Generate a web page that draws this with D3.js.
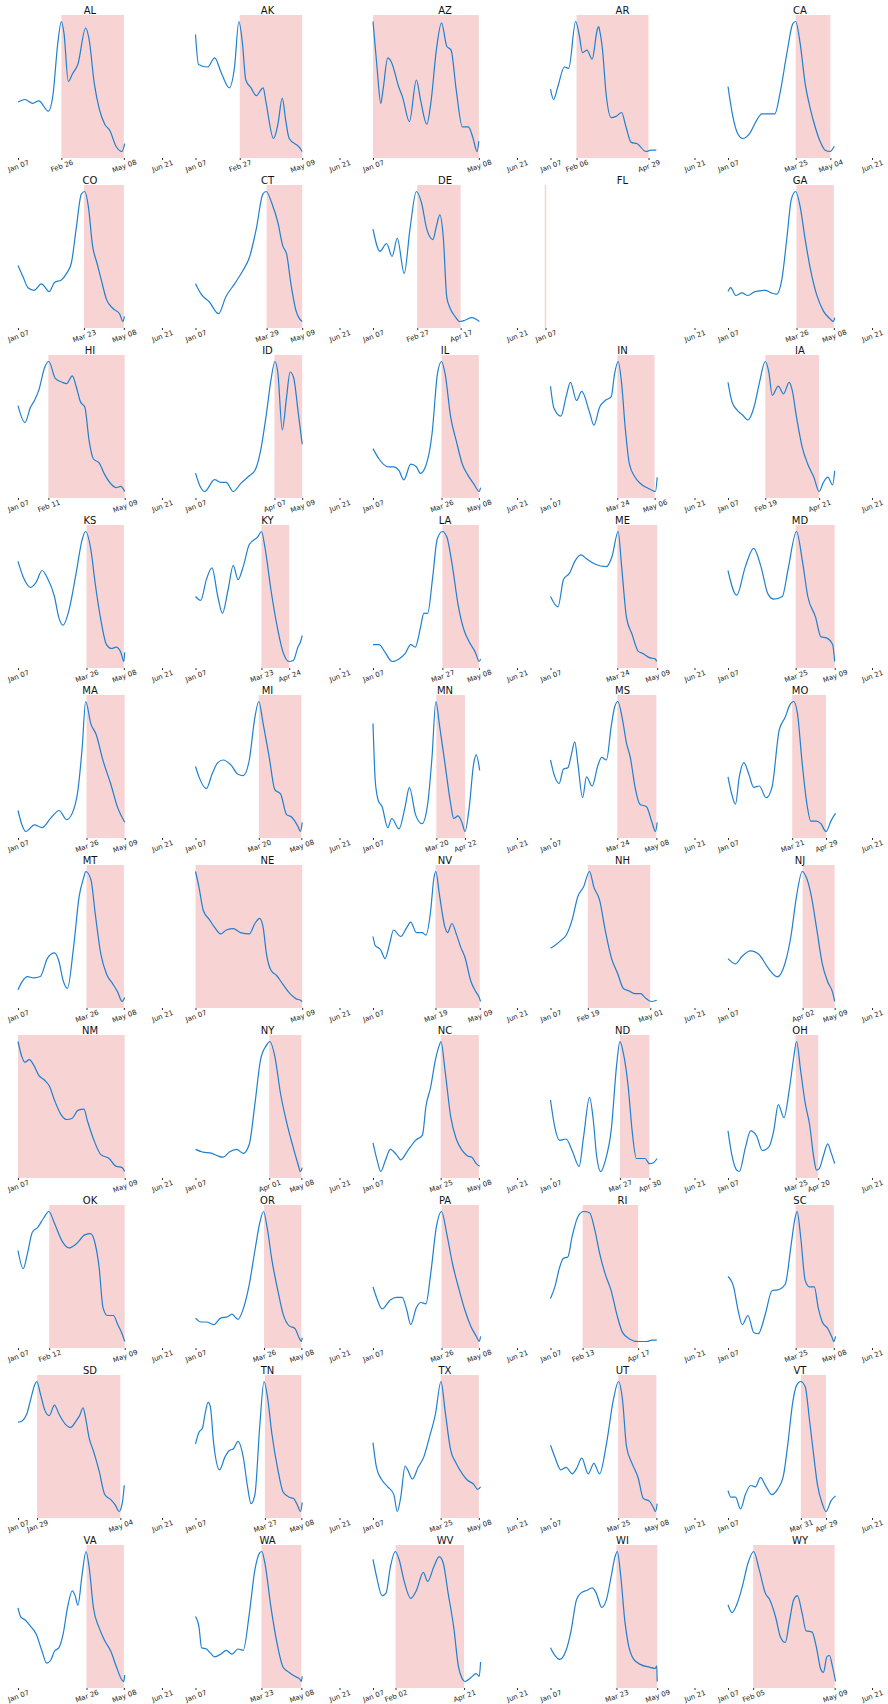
<!DOCTYPE html>
<html>
<head>
<meta charset="utf-8">
<script src="https://cdn.jsdelivr.net/npm/d3@7"></script>
<style>
  html, body { margin: 0; padding: 0; background: #fff; }
  svg { display: block; font-family: "DejaVu Sans", sans-serif; }
</style>
</head>
<body>
<div id="chart"></div>
<script>
// ---------------- DATA ----------------
const axisStart = "2020-01-07";
const axisEnd = "2020-06-21";

const states = ["AL","AK","AZ","AR","CA","CO","CT","DE","FL","GA",
                "HI","ID","IL","IN","IA","KS","KY","LA","ME","MD",
                "MA","MI","MN","MS","MO","MT","NE","NV","NH","NJ",
                "NM","NY","NC","ND","OH","OK","OR","PA","RI","SC",
                "SD","TN","TX","UT","VT","VA","WA","WV","WI","WY"];

const shadeStart = ["2020-02-26","2020-02-27","2020-01-07","2020-02-06","2020-03-25",
                    "2020-03-23","2020-03-29","2020-02-27","2020-01-07","2020-03-26",
                    "2020-02-11","2020-04-07","2020-03-26","2020-03-24","2020-02-19",
                    "2020-03-26","2020-03-23","2020-03-27","2020-03-24","2020-03-25",
                    "2020-03-26","2020-03-20","2020-03-20","2020-03-24","2020-03-21",
                    "2020-03-26","2020-01-07","2020-03-19","2020-02-19","2020-04-02",
                    "2020-01-07","2020-04-01","2020-03-25","2020-03-27","2020-03-25",
                    "2020-02-12","2020-03-26","2020-03-26","2020-02-13","2020-03-25",
                    "2020-01-29","2020-03-27","2020-03-25","2020-03-25","2020-03-31",
                    "2020-03-26","2020-03-23","2020-02-02","2020-03-23","2020-02-05"];

const shadeEnd = ["2020-05-08","2020-05-09","2020-05-08","2020-04-29","2020-05-04",
                  "2020-05-08","2020-05-09","2020-04-17","2020-01-07","2020-05-08",
                  "2020-05-09","2020-05-09","2020-05-08","2020-05-06","2020-04-21",
                  "2020-05-08","2020-04-24","2020-05-08","2020-05-09","2020-05-09",
                  "2020-05-09","2020-05-08","2020-04-22","2020-05-08","2020-04-29",
                  "2020-05-08","2020-05-09","2020-05-09","2020-05-01","2020-05-09",
                  "2020-05-09","2020-05-08","2020-05-08","2020-04-30","2020-04-20",
                  "2020-05-09","2020-05-08","2020-05-08","2020-04-17","2020-05-08",
                  "2020-05-04","2020-05-08","2020-05-08","2020-05-08","2020-04-29",
                  "2020-05-08","2020-05-08","2020-04-21","2020-05-09","2020-05-09"];

// each series: [days since Jan 07, relative value]
const series = [
 /*AL*/ [[0,.38],[8,.40],[17,.37],[24,.39],[35,.31],[40,.42],[46,.84],[50,1],[53,.91],[58,.54],[63,.60],[69,.67],[78,.95],[82,.86],[88,.52],[94,.32],[100,.21],[106,.16],[113,.04],[120,0],[123,.06]],
 /*AK*/ [[0,.90],[3.5,.67],[14,.65],[22,.72],[30,.60],[39,.49],[45,.65],[50,1],[54,.84],[58,.55],[64,.49],[70,.43],[78,.49],[81,.39],[90,.10],[95,.21],[100,.41],[104,.24],[108,.10],[120,.03],[123,0]],
 /*AZ*/ [[0,1],[4.6,.65],[9,.37],[11.5,.47],[17,.72],[21,.69],[30,.49],[34,.42],[42,.23],[50,.55],[55,.39],[62,.21],[67,.39],[73,.78],[79,.99],[85,.81],[90,.78],[96,.47],[103,.19],[110,.19],[115,.11],[120,0],[122,.08]],
 /*AR*/ [[0,.48],[3.5,.40],[8.5,.50],[16,.65],[21,.64],[29,1],[33,.90],[37,.76],[42,.78],[48,.71],[54,.94],[55.5,.96],[57,.92],[60,.78],[64,.45],[70,.26],[75.5,.27],[82,.30],[87,.19],[93,.07],[100,.06],[110,0],[116,.01],[122,.01]],
 /*CA*/ [[0,.50],[5,.29],[11,.14],[17,.10],[25,.14],[33,.24],[39,.29],[46.5,.29],[54,.29],[60,.45],[68,.76],[74.5,.98],[78,1],[83,.84],[89,.52],[94.5,.34],[100,.20],[106,.08],[112,.01],[117.5,0],[122.5,.04]],
 /*CO*/ [[0,.43],[6,.34],[11.5,.26],[18.5,.24],[27,.29],[36,.23],[42,.30],[50,.32],[56,.37],[61.5,.45],[67,.71],[73,.98],[77,1],[81,.89],[86,.58],[91,.45],[96,.32],[102,.17],[109.5,.10],[117,.06],[121,0],[122.6,.04]],
 /*CT*/ [[0,.29],[6.5,.21],[16,.15],[26.5,.06],[35,.19],[45,.29],[54.5,.39],[62,.49],[70,.71],[77.6,.98],[81.5,1],[88,.91],[95,.76],[100.7,.58],[105,.52],[110,.29],[116,.08],[120,.02],[123,0]],
 /*DE*/ [[0,.71],[8,.54],[15.7,.60],[22,.50],[28,.64],[36,.37],[42.6,.71],[50,1],[56,.91],[62,.71],[69,.63],[73,.73],[77,.82],[81,.65],[85,.19],[89,.10],[94.5,.04],[100,0],[106,.01],[114,.03],[122.6,0]],
 /*FL*/ [],
 /*GA*/ [[0,.23],[3,.26],[9,.20],[16,.22],[23,.20],[31,.23],[43,.24],[50,.22],[56,.21],[62,.32],[68,.65],[73,.94],[78,1],[83,.89],[89,.63],[94.5,.42],[102,.21],[110,.08],[117.6,.02],[121.5,0],[123,.03]],
 /*HI*/ [[0,.66],[8,.53],[14.5,.65],[19,.70],[24,.78],[31,.96],[35.5,1],[43,.87],[51,.84],[56,.83],[62.6,.89],[67,.81],[72,.69],[77,.65],[82,.39],[87,.25],[93.5,.22],[100,.13],[107,.06],[113,.03],[118.6,.04],[123,0]],
 /*ID*/ [[0,.15],[6,.04],[10.5,.01],[22,.10],[29,.08],[35.5,.08],[43.5,.01],[52,.07],[62,.13],[68.5,.17],[75,.32],[81.7,.60],[87,.86],[91.6,1],[95,.91],[100,.48],[105,.73],[109,.92],[113,.88],[118.6,.60],[123,.37]],
 /*IL*/ [[0,.33],[7,.25],[17,.19],[24,.19],[30,.16],[35.6,.09],[43.5,.21],[50,.19],[54.7,.14],[61,.20],[68,.44],[74.4,.91],[79,1],[83,.91],[89.6,.57],[96,.39],[103,.21],[109,.13],[116,.06],[122.5,0],[124,.03]],
 /*IN*/ [[0,.81],[4,.64],[12,.58],[18,.73],[23,.84],[30,.70],[36,.77],[45,.61],[50,.51],[56.7,.65],[63,.70],[70,.73],[74,.91],[78,1],[82,.83],[86,.50],[91,.21],[97.5,.11],[104,.06],[110.7,.03],[117,.01],[121,0],[123,.11]],
 /*IA*/ [[0,.84],[4.6,.69],[10,.63],[16.5,.59],[23,.55],[30,.65],[36,.83],[43,1],[47,.92],[51,.74],[58,.81],[64,.75],[70.5,.84],[74,.78],[79,.57],[85.6,.34],[92,.21],[99,.11],[105,0],[110,.07],[115,.11],[120.6,.05],[123,.16]],
 /*KS*/ [[0,.77],[6,.65],[14.5,.57],[21,.61],[27.7,.70],[34,.64],[42,.50],[47,.34],[52,.28],[58.6,.39],[67,.68],[74,.94],[78,1],[84,.86],[89,.60],[95.5,.32],[102,.13],[108,.10],[113,.11],[118.6,.07],[122,0],[123,.07]],
 /*KY*/ [[0,.50],[6,.47],[12.5,.63],[19,.72],[25.7,.50],[31,.37],[37.5,.55],[43.5,.74],[49,.63],[55,.73],[62,.90],[72,.96],[76,1],[80,.88],[87,.55],[95,.24],[101,.07],[108,0],[113,.01],[118,.11],[121,.15],[123,.20]],
 /*LA*/ [[0,.13],[7,.13],[14,.07],[22,0],[30,.02],[37,.06],[43.5,.13],[48.7,.11],[54.7,.26],[58.6,.37],[63,.37],[68.5,.63],[74,.94],[80,1],[85,.96],[91.6,.73],[98,.44],[105,.24],[111,.15],[118,.07],[122.5,0],[124,.02]],
 /*ME*/ [[0,.50],[8.6,.42],[15,.63],[22,.68],[28,.77],[35,.82],[41.5,.79],[51,.75],[64.5,.73],[71,.81],[78,1],[82,.73],[87.6,.34],[94,.21],[101,.08],[107,.06],[114,.03],[120.6,.02],[122.5,0]],
 /*MD*/ [[0,.70],[10,.51],[20,.73],[29.6,.87],[38,.73],[46,.52],[52.7,.48],[62.6,.50],[69,.70],[79,1],[85.6,.78],[92,.50],[101,.34],[107,.19],[114,.18],[120.6,.13],[123,0]],
 /*MA*/ [[0,.17],[4.6,.06],[9,.01],[19,.06],[27.7,.04],[37.5,.11],[47.4,.17],[56,.10],[62.6,.15],[69,.32],[74,.65],[78,1],[84,.83],[90,.75],[98,.55],[107,.37],[115,.19],[123,.08]],
 /*MI*/ [[0,.50],[4,.42],[12.5,.33],[19,.44],[25.7,.53],[32,.55],[41,.51],[49,.44],[55,.43],[62,.55],[68.5,.88],[73,1],[78,.83],[85,.57],[91.6,.32],[98,.29],[105,.13],[111,.11],[118,.04],[121,0],[123,.07]],
 /*MN*/ [[0,.83],[2.6,.39],[6,.24],[10.5,.19],[17,.03],[21.7,.10],[30,.02],[37,.19],[42,.34],[49,.13],[56.6,.06],[63,.21],[68,.57],[72.5,1],[76.4,.83],[83,.52],[89.6,.21],[93,.10],[98,.12],[103,.06],[106,0],[111,.19],[116,.52],[119,.59],[123,.47]],
 /*MS*/ [[0,.55],[5,.42],[10,.37],[15,.48],[20,.49],[24,.59],[28,.69],[31.6,.52],[37,.26],[41.5,.42],[48,.35],[54.7,.51],[59,.57],[64.5,.55],[70,.81],[74,.96],[77.7,1],[83,.86],[87.6,.68],[92,.57],[97.5,.34],[103,.21],[110.7,.19],[117,.07],[121,0],[123,.07]],
 /*MO*/ [[0,.42],[4.6,.28],[8.6,.21],[13,.42],[18.4,.53],[24,.44],[29.6,.34],[36,.35],[44,.26],[50.7,.34],[59,.78],[66,.88],[71,.97],[75.8,1],[80,.91],[85.6,.52],[91,.21],[95.5,.08],[102,.08],[107,.06],[113,0],[118.6,.08],[122,.12],[124,.14]],
 /*MT*/ [[0,.10],[4.6,.16],[11,.20],[18,.19],[25.7,.20],[34,.34],[42,.38],[47,.32],[52,.17],[57,.11],[64,.42],[70.5,.81],[76,.96],[78,1],[84,.94],[89,.68],[95.5,.37],[102,.22],[108.7,.15],[115,.08],[120,.01],[123,.04]],
 /*NE*/ [[0,1],[4,.88],[9,.70],[16,.63],[22,.57],[29,.52],[35.6,.55],[43.5,.56],[52,.53],[62,.52],[68.5,.60],[74,.64],[78,.57],[81.7,.37],[87,.24],[93.5,.20],[101,.13],[109,.06],[116,.02],[121,.01],[123,0]],
 /*NV*/ [[0,.50],[2.6,.43],[8.6,.40],[14,.33],[19,.44],[23.7,.55],[32,.50],[39,.57],[43.5,.61],[50,.53],[56.6,.53],[61,.51],[66.5,.70],[70,.94],[72.5,1],[76.4,.83],[83,.57],[86,.53],[91,.60],[96,.52],[101,.42],[106,.34],[112.6,.16],[119,.07],[122.5,.03],[124,0]],
 /*NH*/ [[0,.41],[5,.43],[12,.47],[18,.51],[25,.63],[31.6,.81],[38,.88],[45,1],[50,.88],[56.6,.78],[63,.55],[70,.34],[77.7,.21],[84,.10],[91,.08],[97.5,.06],[104,.06],[109,.03],[116,0],[122.5,.01]],
 /*NJ*/ [[0,.33],[8.6,.29],[16.5,.35],[26,.39],[36,.36],[46,.26],[57,.19],[66,.30],[72.5,.50],[79,.81],[85.6,1],[90,.96],[95.5,.83],[102,.57],[108.7,.29],[115,.15],[120.6,.07],[123,0]],
 /*NM*/ [[0,1],[4.6,.88],[8,.84],[13,.86],[18,.82],[24,.74],[31,.70],[36,.66],[42,.55],[49.4,.44],[56,.40],[62.6,.41],[69,.47],[76,.48],[80,.39],[87,.25],[95.5,.13],[105,.10],[113,.04],[120,.03],[123,0]],
 /*NY*/ [[0,.17],[8,.15],[19,.14],[25.7,.12],[32,.11],[39,.15],[47.4,.17],[55,.14],[62,.21],[68.5,.52],[75,.86],[81.7,.97],[85.6,1],[91.6,.88],[98,.60],[105,.38],[111.6,.21],[118,.06],[121,0],[123,.03]],
 /*NC*/ [[0,.22],[5,.08],[9,0],[14,.08],[20,.17],[27,.13],[32,.09],[40,.16],[49,.24],[57,.28],[61,.50],[66.5,.65],[72,.86],[76.4,.97],[78.4,1],[83,.78],[89.6,.42],[96,.25],[103,.16],[109,.12],[114,.11],[119,.06],[123,.04]],
 /*ND*/ [[0,.55],[5,.34],[10.5,.24],[18,.25],[25,.16],[33,.04],[38,.26],[45,.57],[49.4,.39],[53,.13],[58,0],[63,.08],[70,.32],[76.4,.83],[80,1],[84,.91],[89.6,.65],[94,.32],[99,.10],[104,.10],[109,.10],[114,.06],[119,.07],[123,.10]],
 /*OH*/ [[0,.32],[4.6,.13],[10,.02],[13,.01],[20,.19],[26,.32],[33,.28],[39.5,.17],[47.4,.20],[52.7,.32],[58,.52],[64.5,.42],[71,.65],[75.8,.88],[79,1],[83.7,.78],[89,.53],[94,.37],[99,.11],[102,.02],[105,.03],[110,.13],[115,.22],[119,.15],[123,.07]],
 /*OK*/ [[0,.70],[6,.56],[11,.68],[16.5,.84],[23,.88],[29.6,.95],[35.6,1],[42,.91],[51,.77],[58.6,.72],[67,.75],[77,.82],[83.7,.83],[89,.75],[93.5,.57],[98,.26],[103,.20],[110,.20],[115,.13],[120,.06],[123,0]],
 /*OR*/ [[0,.18],[6,.15],[12.5,.15],[21,.13],[29,.18],[37,.19],[42,.21],[49,.17],[55,.25],[62,.44],[68.5,.70],[74,.91],[78.4,1],[83,.86],[88,.63],[95,.39],[101,.21],[108,.12],[114.6,.10],[120,.02],[122,0],[123,.03]],
 /*PA*/ [[0,.42],[4,.34],[10.5,.25],[20,.32],[27,.34],[33.6,.34],[39,.24],[43.5,.13],[50,.26],[55,.30],[61,.29],[66.5,.52],[73,.88],[79,1],[85,.83],[91.6,.60],[99.6,.39],[106,.24],[112.6,.12],[119,.04],[122.5,0],[124,.04]],
 /*RI*/ [[0,.33],[5,.42],[10.5,.57],[15,.64],[20,.65],[25,.81],[31.6,.96],[38,1],[45,.99],[51,.86],[56.6,.68],[63,.52],[70,.39],[76.4,.21],[83,.07],[91,.02],[101,0],[110.7,0],[117,.01],[122.5,.01]],
 /*SC*/ [[0,.50],[6.5,.42],[11,.26],[16.5,.13],[23,.20],[29.6,.07],[35,.06],[43,.21],[50.7,.39],[59,.40],[66,.44],[72.5,.73],[77,.94],[79.7,1],[83.7,.81],[89,.47],[94,.42],[99.5,.42],[104,.26],[108.7,.15],[115,.10],[120,.03],[122,0],[124,.04]],
 /*SD*/ [[0,.69],[4.6,.70],[10,.75],[14.5,.86],[19,.97],[21.7,1],[25.7,.91],[31,.78],[36,.74],[42,.82],[47.4,.75],[54,.68],[60.6,.65],[67,.70],[71,.74],[75,.80],[78,.72],[82,.57],[87,.47],[93.5,.32],[100,.14],[107,.10],[112,.06],[116.6,.01],[118.6,.03],[121,.11],[122.5,.21]],
 /*TN*/ [[0,.52],[4,.61],[8,.64],[11,.75],[14.5,.84],[17,.81],[21,.52],[27.7,.32],[34,.42],[39,.47],[43.5,.48],[49,.54],[55,.42],[60,.19],[64,.06],[68.5,.13],[74,.65],[79,1],[83,.88],[88,.60],[95,.32],[101,.15],[108,.11],[113,.10],[118,.04],[121,0],[123,.07]],
 /*TX*/ [[0,.53],[4,.34],[10.5,.24],[17,.19],[24,.13],[28,0],[32,.11],[37,.35],[40,.32],[45.5,.25],[52,.34],[58.6,.42],[65,.57],[72,.75],[78.4,1],[83,.78],[89.6,.47],[96,.37],[103,.29],[109,.24],[116,.21],[120.6,.17],[124,.19]],
 /*UT*/ [[0,.51],[5,.42],[12,.32],[18,.34],[25,.29],[30,.33],[36,.41],[43.5,.29],[50,.37],[56.6,.29],[64.5,.52],[72.5,.86],[78.4,1],[83,.86],[87.6,.50],[94,.37],[101,.26],[107,.10],[114,.08],[118.6,.03],[121,0],[123,.06]],
 /*VT*/ [[0,.16],[3.3,.11],[8.6,.11],[14.5,.02],[20,.13],[26,.20],[31.6,.19],[37.5,.26],[44,.19],[50.7,.13],[57,.17],[64,.28],[69,.52],[74.4,.83],[79,.97],[83.7,1],[89,.96],[94,.70],[99,.42],[103,.21],[108.7,.06],[113,0],[118.6,.08],[124,.12]],
 /*VA*/ [[0,.57],[3.3,.50],[8,.48],[14.5,.43],[21,.37],[27.7,.24],[33,.15],[37.5,.17],[42,.24],[47.4,.27],[52,.37],[57,.57],[62.6,.70],[66,.66],[69,.59],[74,.83],[78.4,1],[82,.88],[87,.57],[93.5,.42],[100,.32],[107,.24],[113,.13],[120,.02],[122,.01],[123,.06]],
 /*WA*/ [[0,.50],[4,.42],[7,.26],[12.5,.25],[17,.22],[22,.19],[29,.21],[35.6,.24],[42,.21],[49,.25],[55,.24],[62,.52],[68.5,.86],[74,.99],[76.4,1],[80,.91],[87,.57],[95,.26],[101,.11],[108,.07],[114.6,.04],[120,.02],[122,0],[123,.04]],
 /*WV*/ [[0,.94],[4,.81],[10.5,.66],[15,.68],[20,.88],[25.7,1],[30,.94],[35.6,.78],[43.5,.64],[50,.70],[58,.84],[63,.77],[70,.88],[76.4,.96],[81,.91],[86.6,.68],[93,.42],[98.6,.11],[103,.02],[106,0],[113,.03],[119,.06],[122.5,.04],[124,.15]],
 /*WI*/ [[0,.26],[4,.21],[10.5,.17],[18,.24],[23.7,.39],[30,.63],[35,.68],[41.5,.70],[48,.72],[52.7,.68],[59,.57],[64.5,.63],[70,.81],[74.4,.96],[77,1],[81,.81],[85.6,.47],[89.6,.29],[96,.17],[104,.13],[114,.11],[120.6,.10],[122.5,.12],[123,0]],
 /*WY*/ [[0,.59],[4.6,.53],[10,.59],[16.5,.73],[23,.91],[29.6,1],[36,.86],[43,.68],[48,.63],[54.7,.50],[60.6,.34],[66,.30],[71,.47],[75.8,.63],[80,.66],[85.6,.52],[90,.39],[96.9,.38],[102,.26],[106.7,.10],[110,.07],[114,.19],[117,.20],[120.6,.11],[124,0]]
];

// ---------------- DRAWING ----------------
const W = 888, H = 1704;
const nCols = 5;
const colStep = 177.5, rowStep = 170;
const left0 = 18, axW = 144;
const plotTop = 15, plotBottom = 158;

const parse = d3.utcParse("%Y-%m-%d");
const fmt = d3.utcFormat("%b %d");
const t0 = parse(axisStart), t1 = parse(axisEnd);
const DAY = 864e5;

const svg = d3.select("#chart").append("svg")
  .attr("width", W).attr("height", H)
  .attr("viewBox", `0 0 ${W} ${H}`);
svg.append("rect").attr("width", W).attr("height", H).attr("fill", "#fff");

states.forEach((st, i) => {
  const r = Math.floor(i / nCols), c = i % nCols;
  const data = series[i];
  const x0 = left0 + colStep * c;
  const empty = data.length === 0;
  const x = d3.scaleUtc().domain([t0, t1]).range([empty ? x0 - 5 : x0, x0 + axW]);
  const top = plotTop + rowStep * r, bottom = plotBottom + rowStep * r;
  const g = svg.append("g");

  // shaded span
  const s0 = parse(shadeStart[i]), s1 = parse(shadeEnd[i]);
  const sx0 = x(s0), sx1 = x(s1);
  g.append("rect")
    .attr("x", sx1 - sx0 < 1 ? sx0 - 0.75 : sx0)
    .attr("y", top)
    .attr("width", Math.max(1.5, sx1 - sx0))
    .attr("height", bottom - top)
    .attr("fill", "#f8d3d4");

  // line
  if (!empty) {
    const vals = data.map(d => d[1]);
    const lo = d3.min(vals), hi = d3.max(vals), pad = (hi - lo) * 0.05;
    const y = d3.scaleLinear().domain([lo - pad, hi + pad]).range([bottom, top]);
    const line = d3.line()
      .x(d => x(new Date(t0.getTime() + d[0] * DAY)))
      .y(d => y(d[1]))
      .curve(d3.curveMonotoneX);
    g.append("path").datum(data)
      .attr("d", line)
      .attr("fill", "none")
      .attr("stroke", "#1f80cf")
      .attr("stroke-width", 1.2)
      .attr("stroke-linejoin", "round");
  }

  // x axis ticks
  const tickDates = [];
  [t0, s0, s1, t1].forEach(t => {
    if (!tickDates.some(u => u.getTime() === t.getTime())) tickDates.push(t);
  });
  const ax = g.append("g").attr("transform", `translate(0,${bottom})`)
    .call(d3.axisBottom(x).tickValues(tickDates).tickFormat(fmt).tickSize(2).tickPadding(0));
  ax.select(".domain").remove();
  ax.selectAll(".tick line").attr("stroke", "#333").attr("stroke-width", 1);
  ax.selectAll(".tick text")
    .attr("y", 0).attr("dy", "0.35em")
    .attr("transform", "translate(0,8) rotate(-20)")
    .attr("text-anchor", "middle")
    .attr("font-size", 7)
    .attr("font-family", "DejaVu Sans, sans-serif")
    .attr("fill", "#222");

  // title
  g.append("text")
    .attr("x", x0 + axW / 2)
    .attr("y", 14 + rowStep * r)
    .attr("text-anchor", "middle")
    .attr("font-size", 10)
    .attr("fill", "#111")
    .text(st);
});
</script>
</body>
</html>
